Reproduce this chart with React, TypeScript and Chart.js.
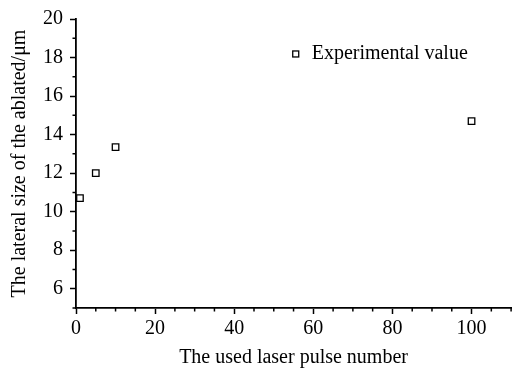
import { useEffect, useRef } from 'react';
import { Chart, registerables } from 'chart.js';

Chart.register(...registerables);

const seriesLabel = 'Experimental value';
const xTitle = 'The used laser pulse number';
const yTitle = 'The lateral size of the ablated/μm';
const pulseNumbers = [1, 5, 10, 100];
const lateralSizes = [10.7, 12.0, 13.35, 14.7];
const xMajorTicks = [0, 20, 40, 60, 80, 100];
const xMinorTicks = [5, 10, 15, 25, 30, 35, 45, 50, 55, 65, 70, 75, 85, 90, 95, 105, 110];
const yMajorTicks = [6, 8, 10, 12, 14, 16, 18, 20];
const yMinorTicks = [5, 7, 9, 11, 13, 15, 17, 19];

const FONT = '"Liberation Serif", "Times New Roman", serif';

const minorTicksAndLegend = {
  id: 'minorTicksAndLegend',
  afterDraw(chart: any) {
    const ctx = chart.ctx;
    const xs = chart.scales.x;
    const ys = chart.scales.y;
    const area = chart.chartArea;
    ctx.save();
    ctx.strokeStyle = '#000';
    ctx.lineWidth = 1.5;
    ctx.beginPath();
    xMinorTicks.forEach((v) => {
      const px = xs.getPixelForValue(v);
      ctx.moveTo(px, area.bottom);
      ctx.lineTo(px, area.bottom + 3.5);
    });
    yMinorTicks.forEach((v) => {
      const py = ys.getPixelForValue(v);
      ctx.moveTo(area.left, py);
      ctx.lineTo(area.left - 3.5, py);
    });
    ctx.stroke();

    // legend inside the plot area
    const lx = area.left + (area.right - area.left) * 0.505;
    const ly = area.top + (area.bottom - area.top) * 0.121;
    ctx.lineWidth = 1.3;
    ctx.fillStyle = '#fff';
    ctx.fillRect(lx - 3, ly - 3, 6, 6);
    ctx.strokeRect(lx - 3, ly - 3, 6, 6);
    ctx.fillStyle = '#000';
    ctx.font = `20px ${FONT}`;
    ctx.textBaseline = 'middle';
    ctx.textAlign = 'left';
    ctx.fillText(seriesLabel, lx + 16, ly);
    ctx.restore();
  },
};

export default function App() {
  const ref = useRef<HTMLCanvasElement | null>(null);
  useEffect(() => {
    document.body.style.margin = '0';
    const canvas = ref.current;
    if (!canvas) return;
    const chart = new Chart(canvas, {
      type: 'scatter',
      data: {
        datasets: [
          {
            label: seriesLabel,
            data: pulseNumbers.map((x, i) => ({ x, y: lateralSizes[i] })),
            pointStyle: 'rect',
            pointRadius: 4.6,
            pointBorderWidth: 1.3,
            pointBorderColor: '#000',
            pointBackgroundColor: '#fff',
            showLine: false,
          },
        ],
      },
      options: {
        animation: false,
        responsive: false,
        maintainAspectRatio: false,
        layout: { padding: { top: 19, right: 4, left: 0, bottom: 0 } },
        plugins: {
          legend: { display: false },
          tooltip: { enabled: false },
        },
        scales: {
          x: {
            type: 'linear',
            min: 0,
            max: 110,
            afterBuildTicks: (scale: any) => {
              scale.ticks = xMajorTicks.map((value) => ({ value }));
            },
            afterFit: (scale: any) => {
              scale.height = 60;
            },
            border: { display: true, color: '#000', width: 1.8 },
            grid: {
              drawOnChartArea: false,
              drawTicks: true,
              tickLength: 6,
              tickColor: '#000',
              tickWidth: 1.5,
            },
            ticks: {
              color: '#000',
              font: { family: FONT, size: 20 },
              padding: 3,
              maxRotation: 0,
            },
            title: {
              display: true,
              text: xTitle,
              color: '#000',
              font: { family: FONT, size: 20, lineHeight: 1 },
              padding: { top: 0, bottom: 0 },
            },
          },
          y: {
            type: 'linear',
            min: 5,
            max: 20,
            afterBuildTicks: (scale: any) => {
              scale.ticks = yMajorTicks.map((value) => ({ value }));
            },
            afterFit: (scale: any) => {
              scale.width = 76;
            },
            border: { display: true, color: '#000', width: 1.8 },
            grid: {
              drawOnChartArea: false,
              drawTicks: true,
              tickLength: 6,
              tickColor: '#000',
              tickWidth: 1.5,
            },
            ticks: {
              color: '#000',
              font: { family: FONT, size: 20 },
              padding: 7,
            },
            title: {
              display: true,
              text: yTitle,
              color: '#000',
              font: { family: FONT, size: 20, lineHeight: 1 },
              padding: { top: 10, bottom: 0 },
            },
          },
        },
      },
      plugins: [minorTicksAndLegend],
    });
    return () => chart.destroy();
  }, []);
  return <canvas ref={ref} width={517} height={368} style={{ display: 'block' }} />;
}
